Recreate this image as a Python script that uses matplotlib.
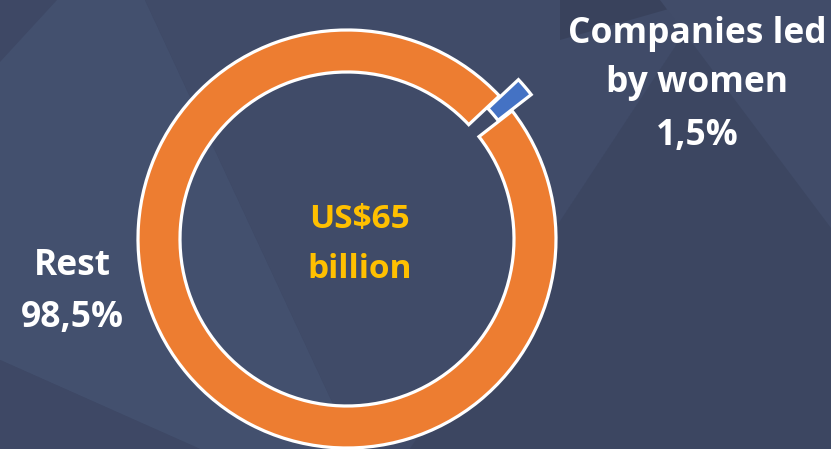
import matplotlib
matplotlib.use("Agg")
import matplotlib.pyplot as plt
from matplotlib.patches import Polygon

# ---- data ----
categories = ["Companies led\nby women", "Rest"]
shares = [1.5, 98.5]
colors = ["#4472C4", "#ED7D31"]
explode_frac = [0.12, 0.0]
center_lines = ["US$65", "billion"]

W, H = 831, 449
fig = plt.figure(figsize=(W / 100, H / 100), dpi=100)
ax = fig.add_axes([0, 0, 1, 1])


def Y(y):  # convert from top-down pixel to axis coords
    return H - y


# ---- decorative background ----
bg = "#3E4865"
fig.patch.set_facecolor(bg)
ax.set_facecolor(bg)
shapes = [
    ([(0, 62), (57, 0), (145, 0), (354, 449), (200, 449), (0, 360)], "#43506E"),
    ([(145, 0), (706, 0), (410, 449), (354, 449)], "#404B68"),
    ([(706, 0), (831, 0), (831, 449), (410, 449)], "#3C4661"),
    ([(560, 0), (700, 0), (560, 40)], "#39425C"),
    ([(660, 0), (831, 0), (831, 228)], "#414C69"),
    ([(0, 360), (200, 449), (0, 449)], "#3E4865"),
]
for pts, c in shapes:
    ax.add_patch(Polygon([(x, Y(y)) for x, y in pts], closed=True,
                         facecolor=c, edgecolor="none", zorder=0))

# ---- donut ----
cx, cy, R, width = 347, Y(239), 209, 42
ax.pie(shares, colors=colors, explode=[e * R for e in explode_frac],
       startangle=43.2, counterclock=False, radius=R, center=(cx, cy),
       wedgeprops=dict(width=width, edgecolor="white", linewidth=2.3),
       frame=True)
ax.set_xlim(0, W)
ax.set_ylim(0, H)
ax.set_aspect("auto")
ax.axis("off")

font = "Open Sans"


def pct(v):
    return f"{v:.1f}".replace(".", ",") + "%"


# right label
lab_lines = categories[0].split("\n") + [pct(shares[0])]
for txt, yb in zip(lab_lines, [43, 92, 145]):
    ax.text(697, Y(yb), txt, ha="center", va="baseline", color="white",
            fontsize=25.5, fontweight="bold", family=font)

# left label
for txt, yb in zip([categories[1], pct(shares[1])], [275, 327]):
    ax.text(72, Y(yb), txt, ha="center", va="baseline", color="white",
            fontsize=25.5, fontweight="bold", family=font)

# center
for txt, yb in zip(center_lines, [228, 278]):
    ax.text(360, Y(yb), txt, ha="center", va="baseline", color="#FFC000",
            fontsize=24, fontweight="bold", family=font)

fig.savefig("out.png", dpi=100, facecolor=bg)
